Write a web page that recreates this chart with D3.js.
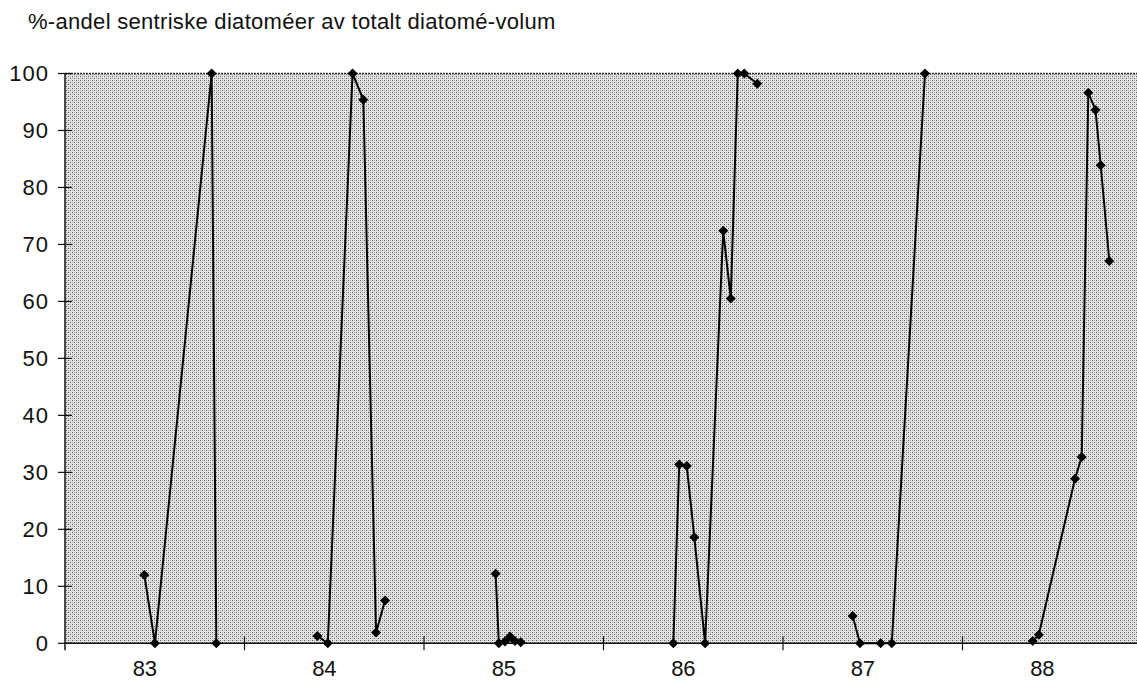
<!DOCTYPE html>
<html>
<head>
<meta charset="utf-8">
<script src="https://cdn.jsdelivr.net/npm/d3@7/dist/d3.min.js"></script>
<style>
  html, body { margin: 0; padding: 0; background: #fff; }
  svg { display: block; font-family: "Liberation Sans", Arial, Helvetica, sans-serif; }
</style>
</head>
<body>
<svg id="chart" width="1137" height="686"></svg>
<script>
// Season labels on the time axis (years 1983–1988)
const yearLabels = ["83", "84", "85", "86", "87", "88"];
const yearStarts = [83, 84, 85, 86, 87, 88];
const yTicks = [0, 10, 20, 30, 40, 50, 60, 70, 80, 90, 100];

// Sampling dates as decimal years (yy + fraction of year)
const sampleTime = [
  83.442, 83.501, 83.817, 83.843,
  84.406, 84.464, 84.602, 84.662, 84.733, 84.783,
  85.399, 85.417, 85.451, 85.479, 85.507, 85.539,
  86.389, 86.422, 86.464, 86.506, 86.566, 86.667, 86.709, 86.748, 86.784, 86.857,
  87.388, 87.429, 87.544, 87.606, 87.791,
  88.391, 88.425, 88.627, 88.664, 88.701, 88.741, 88.770, 88.818
];

// Centric diatoms as % of total diatom volume
const centricPct = [
  12.0, 0, 100, 0,
  1.3, 0, 100, 95.4, 1.9, 7.5,
  12.2, 0, 0.3, 1.2, 0.4, 0.2,
  0, 31.4, 31.1, 18.6, 0, 72.4, 60.5, 100, 100, 98.2,
  4.8, 0, 0, 0, 100,
  0.4, 1.5, 28.9, 32.7, 96.6, 93.6, 83.9, 67.1
];

(function () {
  const svg = d3.select("#chart");
  const plotLeft = 65, plotRight = 1142, plotTop = 73.5, plotBottom = 643.3;

  const x = d3.scaleLinear().domain([83, 89]).range([plotLeft, plotRight]);
  const y = d3.scaleLinear().domain([0, 100]).range([plotBottom, plotTop]);

  // Halftone-like stipple fill for the plot area
  const defs = svg.append("defs");
  const pat = defs.append("pattern")
    .attr("id", "stipple")
    .attr("patternUnits", "userSpaceOnUse")
    .attr("width", 4).attr("height", 4);
  pat.append("rect").attr("width", 4).attr("height", 4).attr("fill", "#e4e4e4");
  pat.append("rect").attr("x", 0).attr("y", 0).attr("width", 1).attr("height", 1).attr("fill", "#5e5e5e");
  pat.append("rect").attr("x", 2).attr("y", 2).attr("width", 1).attr("height", 1).attr("fill", "#5e5e5e");
  pat.append("rect").attr("x", 2).attr("y", 0).attr("width", 1).attr("height", 1).attr("fill", "#b0b0b0");
  pat.append("rect").attr("x", 0).attr("y", 2).attr("width", 1).attr("height", 1).attr("fill", "#b0b0b0");

  svg.append("rect")
    .attr("x", plotLeft).attr("y", plotTop)
    .attr("width", plotRight - plotLeft).attr("height", plotBottom - plotTop)
    .attr("fill", "url(#stipple)");

  // Plot frame: top edge and left edge
  svg.append("line")
    .attr("x1", plotLeft).attr("x2", plotRight)
    .attr("y1", plotTop).attr("y2", plotTop)
    .attr("stroke", "#333").attr("stroke-width", 1.5)
    .attr("stroke-dasharray", "2,1");
  svg.append("line")
    .attr("x1", plotLeft).attr("x2", plotLeft)
    .attr("y1", plotTop).attr("y2", plotBottom + 7)
    .attr("stroke", "#111").attr("stroke-width", 1.5);

  // Y axis: ticks crossing the left edge
  const yAxis = svg.append("g");
  yAxis.selectAll("line.tick")
    .data(yTicks)
    .join("line")
    .attr("class", "tick")
    .attr("x1", plotLeft - 7).attr("x2", plotLeft + 7)
    .attr("y1", d => y(d)).attr("y2", d => y(d))
    .attr("stroke", "#111").attr("stroke-width", 1.2);
  yAxis.selectAll("text")
    .data(yTicks)
    .join("text")
    .attr("x", 49)
    .attr("y", d => y(d))
    .attr("dy", "0.36em")
    .attr("text-anchor", "end")
    .attr("font-size", 22)
    .attr("letter-spacing", 1)
    .attr("fill", "#111")
    .text(d => d);

  // X axis: baseline, year-boundary ticks and season labels
  svg.append("line")
    .attr("x1", plotLeft).attr("x2", plotRight)
    .attr("y1", plotBottom).attr("y2", plotBottom)
    .attr("stroke", "#111").attr("stroke-width", 1.5);
  svg.append("g").selectAll("line")
    .data(yearStarts.slice(1))
    .join("line")
    .attr("x1", d => x(d)).attr("x2", d => x(d))
    .attr("y1", plotBottom - 7).attr("y2", plotBottom + 7)
    .attr("stroke", "#111").attr("stroke-width", 1.2);
  svg.append("g").selectAll("text")
    .data(yearLabels)
    .join("text")
    .attr("x", (d, i) => x(yearStarts[i] + 0.445))
    .attr("y", 676)
    .attr("text-anchor", "middle")
    .attr("font-size", 22)
    .attr("fill", "#111")
    .text(d => d);

  // Build points and split into one line per season
  const points = sampleTime.map((t, i) => ({ t, v: centricPct[i], season: Math.floor(t) }));
  const seasons = d3.groups(points, d => d.season);

  const line = d3.line().x(d => x(d.t)).y(d => y(d.v));
  svg.append("g").selectAll("path")
    .data(seasons)
    .join("path")
    .attr("d", d => line(d[1]))
    .attr("fill", "none")
    .attr("stroke", "#000")
    .attr("stroke-width", 2)
    .attr("stroke-linejoin", "round");

  // Diamond markers (squares turned 45°)
  svg.append("g").selectAll("path")
    .data(points)
    .join("path")
    .attr("transform", d => `translate(${x(d.t)},${y(d.v)}) rotate(45)`)
    .attr("d", d3.symbol().type(d3.symbolSquare).size(50))
    .attr("fill", "#000");

  // Title
  svg.append("text")
    .attr("x", 28).attr("y", 29)
    .attr("font-size", 22)
    .attr("letter-spacing", 0.3)
    .attr("fill", "#111")
    .text("%-andel sentriske diatoméer av totalt diatomé-volum");
})();
</script>
</body>
</html>
